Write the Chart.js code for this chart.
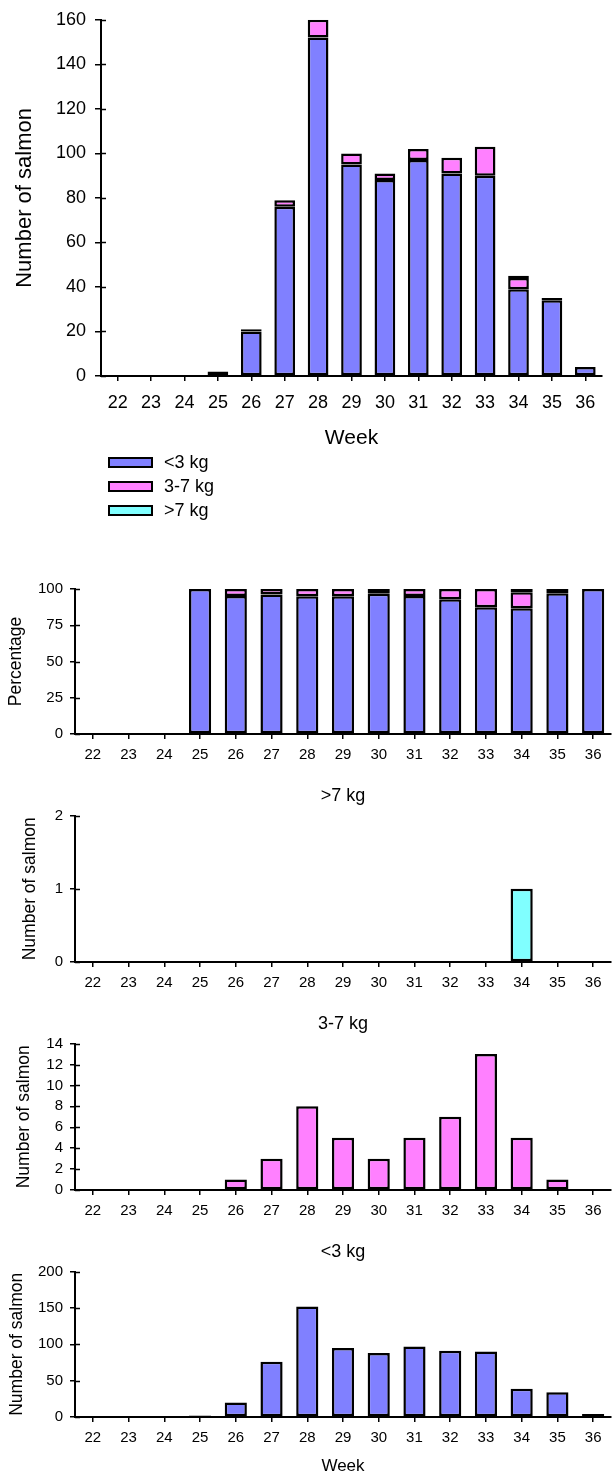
<!DOCTYPE html>
<html>
<head>
<meta charset="utf-8">
<script src="https://cdn.jsdelivr.net/npm/chart.js@4"></script>
<style>
  body { margin: 0; background: #fff; width: 613px; height: 1479px; position: relative; overflow: hidden;
         font-family: "Liberation Sans", Arial, sans-serif; }
  canvas { position: absolute; left: 0; }
  #legend { position: absolute; left: 108px; top: 450px; }
  .item { display: flex; align-items: center; height: 24px; font-size: 18px; color: #000; }
  .box { width: 41px; height: 7px; border: 2px solid #000; margin-right: 11px; }
</style>
</head>
<body>
<canvas id="c1" width="613" height="451" style="top:0px"></canvas>
<div id="legend"></div>
<canvas id="c2" width="613" height="200" style="top:570px"></canvas>
<canvas id="c3" width="613" height="215" style="top:780px"></canvas>
<canvas id="c4" width="613" height="220" style="top:1005px"></canvas>
<canvas id="c5" width="613" height="247" style="top:1232px"></canvas>
<script>
// weeks and catch per size class
const weeks = ['22', '23', '24', '25', '26', '27', '28', '29', '30', '31', '32', '33', '34', '35', '36'];
const under3 = [0, 0, 0, 2, 20, 76, 152, 95, 88, 97, 91, 90, 39, 34, 4];
const mid37 = [0, 0, 0, 0, 1, 3, 8, 5, 3, 5, 7, 13, 5, 1, 0];
const over7 = [0, 0, 0, 0, 0, 0, 0, 0, 0, 0, 0, 0, 1, 0, 0];
// percentage of each class per week
const pctUnder3 = [0, 0, 0, 100, 95.2, 96.2, 95.0, 95.0, 96.7, 95.1, 92.9, 87.4, 86.7, 97.1, 100];
const pctMid37 = [0, 0, 0, 0, 4.8, 3.8, 5.0, 5.0, 3.3, 4.9, 7.1, 12.6, 11.1, 2.9, 0];
const pctOver7 = [0, 0, 0, 0, 0, 0, 0, 0, 0, 0, 0, 0, 2.2, 0, 0];

const BLUE = '#8080ff', PINK = '#ff80ff', CYAN = '#80ffff';
const classes = [['<3 kg', BLUE], ['3-7 kg', PINK], ['>7 kg', CYAN]];

Chart.defaults.font.family = '"Liberation Sans", Arial, sans-serif';
Chart.defaults.color = '#000';

// small tick stubs on the inside of the y axis
const innerTicks = {
  id: 'innerTicks',
  afterDraw(chart) {
    const y = chart.scales.y, ctx = chart.ctx, x0 = chart.chartArea.left;
    ctx.save();
    ctx.strokeStyle = '#000';
    ctx.lineWidth = 1.5;
    y.ticks.forEach(t => {
      const py = Math.round(y.getPixelForValue(t.value)) + 0.5;
      ctx.beginPath();
      ctx.moveTo(x0, py);
      ctx.lineTo(x0 + 5, py);
      ctx.stroke();
    });
    ctx.restore();
  }
};

function barChart(id, o) {
  return new Chart(document.getElementById(id), {
    type: 'bar',
    data: {
      labels: weeks,
      datasets: o.sets.map(s => ({
        label: s[0],
        data: s[2].map(v => v === 0 ? null : v),
        backgroundColor: s[1],
        borderColor: '#000',
        borderWidth: 2.5,
        borderSkipped: false,
        categoryPercentage: 1,
        barPercentage: 0.62
      }))
    },
    options: {
      responsive: false,
      animation: false,
      devicePixelRatio: 1,
      layout: { padding: { top: o.padTop, right: o.padRight, left: 0, bottom: 0 } },
      plugins: {
        legend: { display: false },
        tooltip: { enabled: false },
        title: o.title ? {
          display: true, text: o.title, fullSize: false, color: '#000',
          font: { size: 18, weight: 'normal' },
          padding: { top: o.titleTop, bottom: o.titleBottom }
        } : { display: false }
      },
      scales: {
        x: {
          stacked: true,
          grid: { offset: false, drawOnChartArea: false, color: '#000', tickLength: 5, lineWidth: 1.5 },
          border: { color: '#000', width: 2 },
          ticks: { color: '#000', font: { size: o.tick }, padding: o.xPad, maxRotation: 0, autoSkip: false },
          title: o.xTitle ? {
            display: true, text: o.xTitle, color: '#000',
            font: { size: o.xTitleSize }, padding: { top: 0, bottom: o.xTitlePad }
          } : { display: false },
          afterFit: s => { s.height = o.xH; }
        },
        y: {
          stacked: true,
          min: 0,
          max: o.max,
          ticks: { stepSize: o.step, color: '#000', font: { size: o.tick }, padding: o.yPad, autoSkip: false },
          grid: { drawOnChartArea: false, color: '#000', tickLength: o.yTick, lineWidth: 1.5 },
          border: { color: '#000', width: 2 },
          title: {
            display: true, text: o.yTitle, color: '#000',
            font: { size: o.yTitleSize }, padding: { top: o.yTitlePad, bottom: 0 }
          },
          afterFit: s => { s.width = o.left; }
        }
      }
    },
    plugins: [innerTicks]
  });
}

// stacked counts
barChart('c1', {
  sets: [[classes[0][0], BLUE, under3], [classes[1][0], PINK, mid37], [classes[2][0], CYAN, over7]],
  padTop: 16, padRight: 11, left: 101, xH: 75, max: 160, step: 20,
  tick: 18, xPad: 11, yPad: 9, yTick: 6,
  yTitle: 'Number of salmon', yTitleSize: 22, yTitlePad: 12,
  xTitle: 'Week', xTitleSize: 21, xTitlePad: 0
});

// legend under the first chart
const legend = document.getElementById('legend');
classes.forEach(c => {
  const row = document.createElement('div');
  row.className = 'item';
  row.innerHTML = '<span class="box" style="background:' + c[1] + '"></span>';
  row.appendChild(document.createTextNode(c[0]));
  legend.appendChild(row);
});

// percentage per class
barChart('c2', {
  sets: [['<3 kg', BLUE, pctUnder3], ['3-7 kg', PINK, pctMid37], ['>7 kg', CYAN, pctOver7]],
  padTop: 19, padRight: 2, left: 75, xH: 36, max: 100, step: 25,
  tick: 15, xPad: 7, yPad: 7, yTick: 5,
  yTitle: 'Percentage', yTitleSize: 17.5, yTitlePad: 6
});

barChart('c3', {
  sets: [['>7 kg', CYAN, over7]],
  title: '>7 kg', titleTop: 5, titleBottom: 9,
  padTop: 0, padRight: 2, left: 75, xH: 33, max: 2, step: 1,
  tick: 15, xPad: 7, yPad: 7, yTick: 5,
  yTitle: 'Number of salmon', yTitleSize: 17.5, yTitlePad: 20
});

barChart('c4', {
  sets: [['3-7 kg', PINK, mid37]],
  title: '3-7 kg', titleTop: 8, titleBottom: 9,
  padTop: 0, padRight: 2, left: 75, xH: 35, max: 14, step: 2,
  tick: 15, xPad: 7, yPad: 7, yTick: 5,
  yTitle: 'Number of salmon', yTitleSize: 17.5, yTitlePad: 14
});

barChart('c5', {
  sets: [['<3 kg', BLUE, under3]],
  title: '<3 kg', titleTop: 9, titleBottom: 9,
  padTop: 0, padRight: 2, left: 75, xH: 62, max: 200, step: 50,
  tick: 15, xPad: 7, yPad: 7, yTick: 5,
  yTitle: 'Number of salmon', yTitleSize: 17.5, yTitlePad: 7,
  xTitle: 'Week', xTitleSize: 17, xTitlePad: 2
});
</script>
</body>
</html>
